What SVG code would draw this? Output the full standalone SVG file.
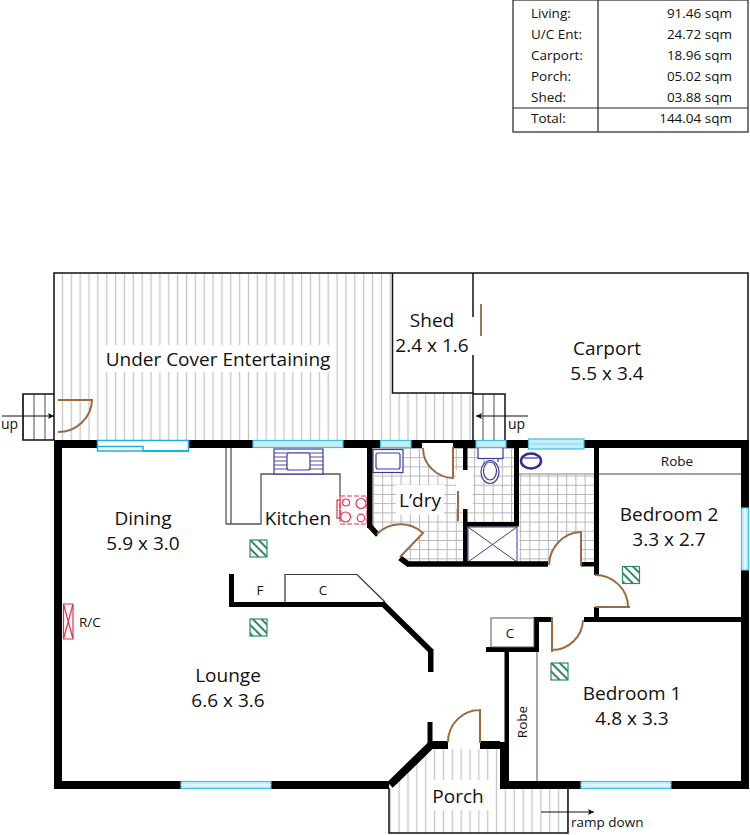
<svg xmlns="http://www.w3.org/2000/svg" width="750" height="835" viewBox="0 0 750 835">
<style>
text{font-family:"Open Sans","Noto Sans","Liberation Sans",sans-serif;fill:#111}
.l{font-size:19px;text-anchor:middle}
.s{font-size:13.5px}
.m{font-size:13.5px;text-anchor:middle}
.th{fill:none;stroke:#111;stroke-width:1.5}
.arr{fill:none;stroke:#111;stroke-width:1}
.gr{fill:none;stroke:#777;stroke-width:1.3}
.w{fill:#000;stroke:none}
.ws{fill:none;stroke:#000;stroke-width:5.5}
.door{fill:#fff;stroke:none}
.dl{fill:none;stroke:#9a6a42;stroke-width:2}
.win{fill:#c4eef5;stroke:#3fc0e4;stroke-width:1.2}
.bl{fill:none;stroke:#3a3a9c;stroke-width:1.2}
.gs{fill:url(#gh);stroke:#2f8a66;stroke-width:1.2}
.rd{fill:none;stroke:#e8304f;stroke-width:1.2}
</style>
<defs>
<pattern id="vh" patternUnits="userSpaceOnUse" x="58" y="0" width="8.86" height="10"><rect x="3.8" width="1.3" height="10" fill="#c6c6c6"/></pattern>
<pattern id="tile" patternUnits="userSpaceOnUse" x="373" y="448" width="9.2" height="9.2"><path d="M0 0.500H9.2M0.500 0V9.2" stroke="#b4b4b4" stroke-width="1" fill="none"/></pattern>
<pattern id="gh" patternUnits="userSpaceOnUse" width="6" height="6" patternTransform="rotate(45)"><rect width="6" height="6" fill="#fff"/><rect width="6" height="2" fill="#2f8a66"/></pattern>
<marker id="ah" markerUnits="userSpaceOnUse" markerWidth="8" markerHeight="8" refX="6" refY="4" orient="auto"><path d="M0 1L6 4L0 7L1.200 4Z" fill="#111"/></marker>
</defs>
<rect width="750" height="835" fill="#fff"/>

<g id="area-table">
<rect x="513" y="0" width="235" height="132" fill="none" stroke="#222" stroke-width="1.2"/>
<path d="M598 0V132M513 108H748" fill="none" stroke="#222" stroke-width="1.2"/>
<text class="s" x="531" y="18">Living:</text><text class="s" x="732" y="18" text-anchor="end">91.46 sqm</text>
<text class="s" x="531" y="39">U/C Ent:</text><text class="s" x="732" y="39" text-anchor="end">24.72 sqm</text>
<text class="s" x="531" y="60">Carport:</text><text class="s" x="732" y="60" text-anchor="end">18.96 sqm</text>
<text class="s" x="531" y="81">Porch:</text><text class="s" x="732" y="81" text-anchor="end">05.02 sqm</text>
<text class="s" x="531" y="102">Shed:</text><text class="s" x="732" y="102" text-anchor="end">03.88 sqm</text>
<text class="s" x="531" y="123">Total:</text><text class="s" x="732" y="123" text-anchor="end">144.04 sqm</text>
</g>

<g id="under-cover">
<rect x="54" y="273" width="419" height="167" fill="url(#vh)"/>
<rect x="100" y="345" width="236" height="27" fill="#fff"/>
<path d="M23 394V440M34 394V440M45 394V440" class="gr"/>
<path d="M54 394H23V440H54" class="th"/>
<line x1="2" y1="416" x2="54" y2="416" class="arr" marker-end="url(#ah)"/>
<text class="s" x="1" y="429" style="font-size:14px">up</text>
<path d="M93 400H58M92 400A34 33 0 0 1 58 432" class="dl"/>
<text class="l" x="218" y="366">Under Cover Entertaining</text>
</g>

<g id="shed">
<rect x="392.500" y="273" width="80.500" height="120" fill="#fff"/>
<path d="M392.500 273V393H473" class="th"/>
<line x1="481" y1="304" x2="481" y2="336" stroke="#9a7a5a" stroke-width="2"/>
<text class="l" x="432" y="327">Shed</text>
<text class="l" x="432" y="352">2.4 x 1.6</text>
</g>

<g id="carport">
<path d="M483 394V440M494 394V440" class="gr"/>
<path d="M473 394H505V440" class="th"/>
<line x1="528" y1="416" x2="476" y2="416" class="arr" marker-end="url(#ah)"/>
<text class="s" x="508" y="429" style="font-size:14px">up</text>
<text class="l" x="607" y="355">Carport</text>
<text class="l" x="607" y="380">5.5 x 3.4</text>
</g>

<g id="outline">
<path d="M473 317V273H54V440M473 273H748V440M473 355V440" class="th"/>
</g>

<g id="wet-areas">
<path d="M373 448H463V509H467V448H515V522H467V563H408L378 533L373 527Z" fill="url(#tile)"/>
<rect x="519" y="474" width="75" height="89" fill="url(#tile)"/>
<rect x="456" y="470" width="17" height="39" fill="#fff"/>
<rect x="396" y="485" width="48" height="30" fill="#fff"/>
<line x1="519" y1="474" x2="594" y2="474" stroke="#888" stroke-width="1"/>
<rect x="373" y="449.500" width="30" height="23" fill="#fff" class="bl" style="fill:#fff"/>
<rect x="376" y="453" width="24" height="16" rx="2" class="bl"/>
<rect x="478" y="447.500" width="25" height="11" class="bl" style="fill:#fff"/>
<path d="M482 458.500H498V462" class="bl"/>
<ellipse cx="490" cy="472" rx="9" ry="11.500" class="bl" style="fill:#fff"/>
<ellipse cx="490" cy="471" rx="6.500" ry="9" class="bl"/>
<ellipse cx="531" cy="461" rx="10" ry="7.500" fill="none" stroke="#2e2e96" stroke-width="2.500"/>
<path d="M524 458H538" class="bl"/>
<path d="M468 527H517V562H468ZM468 527L517 562M517 527L468 562" class="bl" style="stroke-width:1"/>
<text class="l" x="420" y="507">L’dry</text>
</g>

<g id="kitchen">
<path d="M226 448V524M231 448V524M226 524H261V474H340V496" fill="none" stroke="#555" stroke-width="1.300"/>
<rect x="274" y="449" width="49" height="25" class="bl" style="fill:#fff"/>
<path d="M274 453H323M274 457H323M274 461H323M274 465H323M274 469H323" class="bl" style="stroke-width:0.900"/>
<rect x="287" y="453" width="23" height="17" rx="2" class="bl" style="fill:#fff"/>
<rect x="340" y="496" width="27" height="28" class="rd" stroke-dasharray="5 2"/>
<rect x="337" y="500" width="3" height="18" class="rd"/>
<circle cx="346" cy="502.500" r="3.500" class="rd"/><circle cx="361" cy="503.500" r="5" class="rd"/>
<circle cx="345.500" cy="517" r="5" class="rd"/><circle cx="361" cy="518" r="3.800" class="rd"/>
<text class="l" x="298" y="525">Kitchen</text>
<rect x="250" y="540" width="17" height="17" class="gs"/>
</g>

<g id="porch">
<path d="M389 789L431 749H500V789H568V833H389Z" fill="url(#vh)"/>
<rect x="427" y="780" width="62" height="30" fill="#fff"/>
<path d="M389 788V833H568V789" class="th"/>
<line x1="541" y1="812" x2="594" y2="812" class="arr" marker-end="url(#ah)"/>
<text class="s" x="571" y="827">ramp down</text>
<text class="l" x="458" y="803">Porch</text>
</g>

<g id="walls">
<path class="w" d="M54 440H749V448H62V781H181V789H54Z"/>
<rect class="w" x="271" y="781" width="118" height="8"/>
<rect class="w" x="741" y="440" width="8" height="349"/>
<rect class="w" x="500" y="781" width="81" height="8"/>
<rect class="w" x="671" y="781" width="78" height="8"/>
<rect class="w" x="500" y="742" width="9" height="47"/>
<rect class="w" x="504.500" y="650" width="4.500" height="95"/>
<rect class="w" x="430" y="741" width="70" height="8"/>
<path class="ws" d="M390 785L431 745" style="stroke-width:8"/>
<rect class="w" x="427.500" y="722" width="5" height="23"/>
<rect class="w" x="367" y="448" width="5.500" height="80"/>
<path class="ws" d="M369.700 526L378 535"/>
<path class="ws" d="M400 558L408 564H548"/>
<rect class="w" x="581" y="562" width="15" height="4.500"/>
<rect class="w" x="594" y="448" width="5" height="127"/>
<rect class="w" x="594" y="607" width="5" height="12"/>
<rect class="w" x="584" y="617" width="160" height="5"/>
<rect class="w" x="463" y="448" width="4.500" height="22"/>
<rect class="w" x="463" y="509" width="4.500" height="57"/>
<rect class="w" x="463" y="522" width="56" height="4.500"/>
<rect class="w" x="514" y="448" width="5" height="78"/>
<rect class="w" x="229" y="574" width="5" height="33"/>
<rect class="w" x="229" y="602" width="155" height="5"/>
<path class="ws" d="M382 603L431 651"/>
<rect class="w" x="428" y="649" width="5.500" height="23"/>
<rect class="w" x="534" y="617" width="17" height="5"/>
<rect class="w" x="534" y="617" width="5" height="35"/>
<rect class="w" x="486" y="647" width="53" height="5"/>
</g>

<g id="lounge-fittings">
<path d="M285 602V574.500H357L385 602" fill="none" stroke="#333" stroke-width="1.200"/>
<rect x="491" y="618" width="43" height="29" fill="#fff" stroke="#555" stroke-width="1"/>
<line x1="537" y1="652" x2="537" y2="781" stroke="#777" stroke-width="1.300"/>
<rect x="250" y="619" width="17" height="17" class="gs"/>
<rect x="551" y="663" width="17" height="17" class="gs"/>
<rect x="622.500" y="566.500" width="17" height="17" class="gs"/>
<path d="M63.500 604H73V639H63.500ZM63.500 604L73 639M73 604L63.500 639" class="rd"/>
<line x1="599" y1="474" x2="741" y2="474" stroke="#444" stroke-width="1"/>
</g>

<g id="windows">
<rect x="97.500" y="440.500" width="91" height="10.500" fill="#fff" stroke="#19b2e6" stroke-width="1.500"/>
<path d="M97.500 446.500H143V451" fill="none" stroke="#19b2e6" stroke-width="1.500"/>
<path d="M143 451H188.500" fill="none" stroke="#19b2e6" stroke-width="2"/>
<rect x="253" y="440.500" width="90" height="7" class="win"/>
<rect x="380.500" y="440.500" width="30.500" height="7" class="win"/>
<rect x="476" y="440.500" width="30" height="7" class="win"/>
<rect x="528.500" y="439" width="55.500" height="10" class="win"/>
<path d="M529 444H584" stroke="#7fd8ee" stroke-width="1"/>
<rect x="741.500" y="508" width="7" height="62" class="win"/>
<path d="M745 508V570" stroke="#fff" stroke-width="1"/>
<rect x="181" y="781.500" width="90" height="7" class="win"/>
<rect x="581" y="781.500" width="90" height="7" class="win"/>
<path d="M181 785H271M581 785H671" stroke="#fff" stroke-width="1"/>
</g>

<g id="doors">
<path class="door" d="M453 443V478A31 33 0 0 1 422 443Z"/>
<path class="dl" d="M453 447V478A31 30 0 0 1 423 448"/>
<path class="door" d="M400 557L423 533A33 33 0 0 0 377 534Z"/>
<path class="dl" d="M400 557L423 533A33 33 0 0 0 377 534"/>
<line x1="458" y1="491" x2="458" y2="521" stroke="#9a6a42" stroke-width="2"/>
<path class="door" d="M581 532V567H549A33 34 0 0 1 581 532Z"/>
<path class="dl" d="M581 531V566M581 532A33 34 0 0 0 549 565"/>
<path class="dl" d="M595 607H630M628 607A33 32 0 0 0 595 575"/>
<rect x="553" y="617" width="30" height="5" fill="#fff"/>
<path class="dl" d="M552 617V652M552 650A31 31 0 0 0 583 620"/>
<rect x="448" y="741" width="32" height="8" fill="#fff"/>
<path class="dl" d="M480 709V743M480 710A32 32 0 0 0 448 742"/>
</g>

<g id="labels">
<text class="l" x="143" y="525">Dining</text><text class="l" x="143" y="550">5.9 x 3.0</text>
<text class="l" x="228" y="682">Lounge</text><text class="l" x="228" y="707">6.6 x 3.6</text>
<text class="l" x="632" y="700">Bedroom 1</text><text class="l" x="632" y="725">4.8 x 3.3</text>
<text class="l" x="669" y="521">Bedroom 2</text><text class="l" x="669" y="546">3.3 x 2.7</text>
<text class="m" x="260" y="595">F</text><text class="m" x="323" y="595">C</text><text class="m" x="510" y="638">C</text>
<text class="m" x="677" y="466">Robe</text>
<text class="m" transform="translate(527 722) rotate(-90)">Robe</text>
<text class="s" x="79" y="627">R/C</text>
</g>
</svg>
